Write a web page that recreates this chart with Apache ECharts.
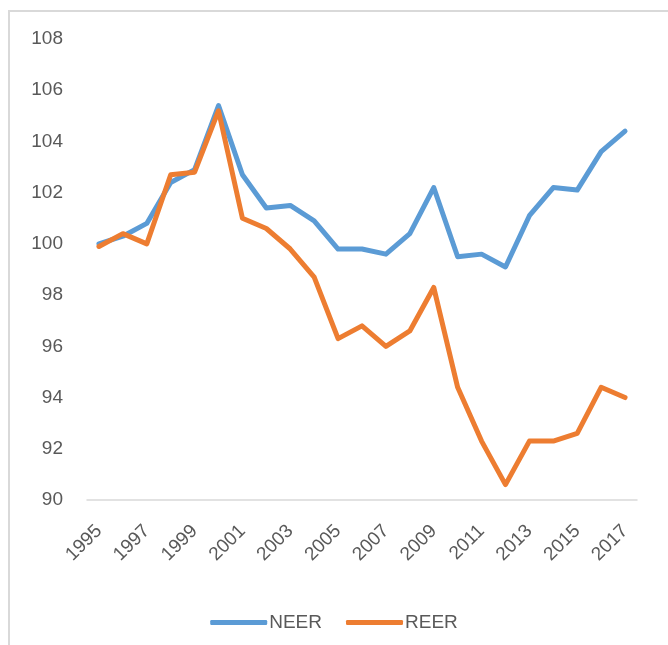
<!DOCTYPE html>
<html>
<head>
<meta charset="utf-8">
<script src="https://cdn.jsdelivr.net/npm/echarts@6/dist/echarts.min.js"></script>
<style>
  html, body { margin: 0; padding: 0; background: #fff; }
  #chart { width: 668px; height: 645px; position: absolute; left: 0; top: 0; }
  #frame { position: absolute; left: 8px; top: 10px; width: 680px; height: 660px; border: 2px solid #d9d9d9; box-sizing: border-box; pointer-events: none; }
</style>
</head>
<body>
<div id="chart"></div>
<div id="frame"></div>
<script>
const years = ['1995','1996','1997','1998','1999','2000','2001','2002','2003','2004','2005','2006','2007','2008','2009','2010','2011','2012','2013','2014','2015','2016','2017'];
const neer = [100.0, 100.3, 100.8, 102.4, 102.9, 105.4, 102.7, 101.4, 101.5, 100.9, 99.8, 99.8, 99.6, 100.4, 102.2, 99.5, 99.6, 99.1, 101.1, 102.2, 102.1, 103.6, 104.4];
const reer = [99.9, 100.4, 100.0, 102.7, 102.8, 105.2, 101.0, 100.6, 99.8, 98.7, 96.3, 96.8, 96.0, 96.6, 98.3, 94.4, 92.3, 90.6, 92.3, 92.3, 92.6, 94.4, 94.0];
const seriesNames = ['NEER', 'REER'];
const colors = ['#5B9BD5', '#ED7D31'];
const yMin = 90, yMax = 108, yStep = 2;

const font = 'Liberation Sans, Arial, sans-serif';
const chart = echarts.init(document.getElementById('chart'), null, { renderer: 'canvas' });
chart.setOption({
  animation: false,
  backgroundColor: '#fff',
  color: colors,
  grid: { left: 87, right: 31, top: 39, bottom: 145, containLabel: false },
  legend: {
    bottom: 8,
    left: 'center',
    itemWidth: 57,
    itemHeight: 5,
    itemGap: 24,
    icon: 'roundRect',
    textStyle: { color: '#595959', fontSize: 19, fontFamily: font, padding: [0, 0, 0, -3] },
    data: seriesNames
  },
  xAxis: {
    type: 'category',
    data: years,
    boundaryGap: true,
    axisLine: { show: true, lineStyle: { color: '#d9d9d9', width: 1.5 } },
    axisTick: { show: false },
    axisLabel: { interval: 1, rotate: 45, margin: 28, color: '#595959', fontSize: 19, fontFamily: font }
  },
  yAxis: {
    type: 'value',
    min: yMin, max: yMax, interval: yStep,
    axisLine: { show: false },
    axisTick: { show: false },
    splitLine: { show: false },
    axisLabel: { margin: 24, color: '#595959', fontSize: 19, fontFamily: font }
  },
  series: [
    { name: seriesNames[0], type: 'line', data: neer, symbol: 'none', lineStyle: { width: 5, cap: 'round', join: 'round' } },
    { name: seriesNames[1], type: 'line', data: reer, symbol: 'none', lineStyle: { width: 5, cap: 'round', join: 'round' } }
  ]
});
</script>
</body>
</html>
